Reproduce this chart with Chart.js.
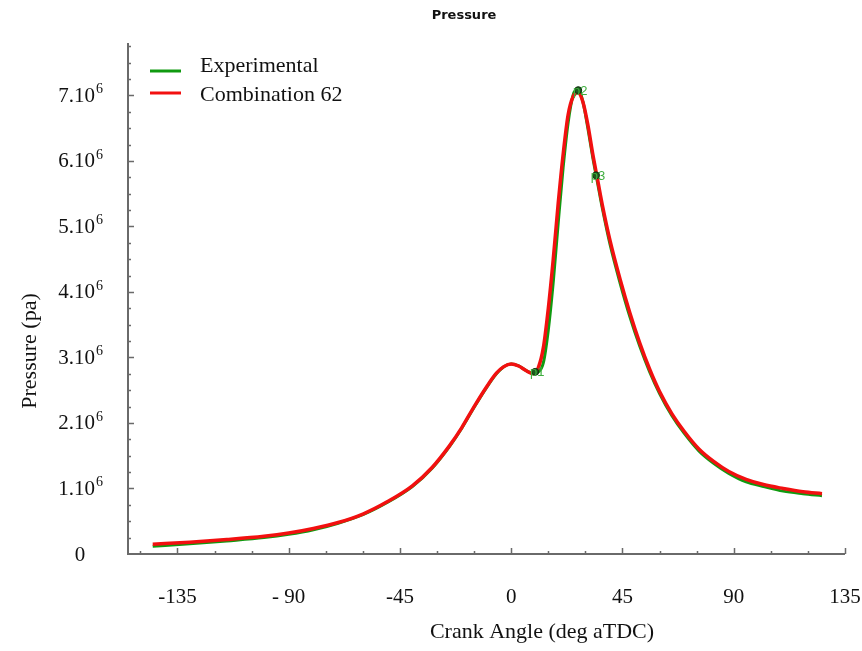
<!DOCTYPE html>
<html>
<head>
<meta charset="utf-8">
<script src="https://cdn.jsdelivr.net/npm/chart.js@4.4.1/dist/chart.umd.min.js"></script>
<style>
    html, body { margin: 0; padding: 0; background: #fff; }
</style>
</head>
<body>
<canvas id="pressure-chart" width="862" height="651"></canvas>
<script>
// crank angle, deg aTDC
const crankAngle = [-145, -130, -115, -100, -90, -80, -70, -60, -50, -40, -32, -25, -20, -15, -10, -6, -3, 0, 3, 6,
    9, 11, 13, 15, 17, 19, 21, 23, 25, 27, 29, 31, 33, 35, 37, 40, 44, 48, 52, 56,
    60, 65, 70, 76, 82, 88, 95, 102, 110, 118, 125.7];
// pressure, in units of 10^6 Pa
const experimental = [0.12, 0.155, 0.20, 0.25, 0.30, 0.37, 0.47, 0.60, 0.79, 1.03, 1.31, 1.64, 1.92, 2.24, 2.54, 2.75, 2.86, 2.90, 2.87, 2.80,
    2.76, 2.78, 2.92, 3.42, 4.15, 5.05, 5.90, 6.58, 7.00, 7.10, 6.90, 6.50, 6.05, 5.65, 5.25, 4.72, 4.14, 3.62, 3.17, 2.78,
    2.45, 2.11, 1.84, 1.57, 1.38, 1.23, 1.10, 1.03, 0.96, 0.92, 0.89];
const combination62 = [0.15, 0.18, 0.22, 0.27, 0.32, 0.39, 0.48, 0.61, 0.80, 1.04, 1.32, 1.65, 1.93, 2.25, 2.55, 2.76, 2.86, 2.90, 2.87, 2.80,
    2.75, 2.85, 3.15, 3.75, 4.50, 5.35, 6.10, 6.70, 6.98, 7.04, 6.90, 6.55, 6.10, 5.70, 5.30, 4.78, 4.20, 3.68, 3.22, 2.82,
    2.48, 2.14, 1.87, 1.60, 1.41, 1.26, 1.14, 1.06, 1.00, 0.95, 0.92];

const markerNames = ['p1', 'p2', 'p3'];
const markerAngle = [9.7, 27.1, 34.3];
const markerPressure = [2.78, 7.08, 5.78];

const xTicks = [-135, -90, -45, 0, 45, 90, 135];
const xTickLabels = ['-135', '- 90', '-45', '0', '45', '90', '135'];
const yTicks = [0, 1, 2, 3, 4, 5, 6, 7];
const yTickLabels = ['0', '1.10^6', '2.10^6', '3.10^6', '4.10^6', '5.10^6', '6.10^6', '7.10^6'];

const SERIF = '"Liberation Serif", "Times New Roman", serif';
const GREEN = '#109a10';
const RED = '#f21010';
const AXIS = '#6a6a6a';

function toPoints(xs, ys) {
    return xs.map((x, i) => ({ x: x, y: ys[i] }));
}

// axis lines, tick marks, y labels with exponents, titles, legend, marker names
const decorations = {
    id: 'decorations',
    afterDraw(chart) {
        const ctx = chart.ctx;
        const area = chart.chartArea;
        const xs = chart.scales.x;
        const ys = chart.scales.y;
        ctx.save();

        ctx.strokeStyle = AXIS;
        ctx.lineWidth = 2;
        ctx.beginPath();
        ctx.moveTo(area.left, area.top);
        ctx.lineTo(area.left, area.bottom);
        ctx.lineTo(area.right, area.bottom);
        ctx.stroke();

        ctx.lineWidth = 1.5;
        ctx.beginPath();
        for (let v = -150; v <= 135; v += 15) {
            const px = Math.round(xs.getPixelForValue(v)) + 0.5;
            const len = v % 45 === 0 ? 6 : 3;
            ctx.moveTo(px, area.bottom);
            ctx.lineTo(px, area.bottom - len);
        }
        for (let v = 0.25; v <= 7.8; v += 0.25) {
            const py = Math.round(ys.getPixelForValue(v)) + 0.5;
            const len = Math.abs(v - Math.round(v)) < 0.01 ? 6 : 3;
            ctx.moveTo(area.left, py);
            ctx.lineTo(area.left + len, py);
        }
        ctx.stroke();

        // y tick labels, exponent raised
        ctx.fillStyle = '#111';
        ctx.textBaseline = 'middle';
        ctx.textAlign = 'left';
        yTicks.forEach((v, i) => {
            const parts = yTickLabels[i].split('^');
            const py = ys.getPixelForValue(v);
            ctx.font = '21px ' + SERIF;
            const wb = ctx.measureText(parts[0]).width;
            ctx.font = '14px ' + SERIF;
            const ws = parts[1] ? ctx.measureText(parts[1]).width : 0;
            const x0 = 80 - (wb + ws) / 2;
            ctx.font = '21px ' + SERIF;
            ctx.fillText(parts[0], x0, py + 1);
            if (parts[1]) {
                ctx.font = '14px ' + SERIF;
                ctx.fillText(parts[1], x0 + wb + 1, py - 6);
            }
        });

        // titles
        ctx.textAlign = 'center';
        ctx.font = 'bold 13px "DejaVu Sans", Verdana, sans-serif';
        ctx.fillText('Pressure', 464, 16);

        ctx.font = '22px ' + SERIF;
        ctx.fillText('Crank Angle (deg aTDC)', 542, 632);
        ctx.save();
        ctx.translate(30, 351);
        ctx.rotate(-Math.PI / 2);
        ctx.fillText('Pressure (pa)', 0, 0);
        ctx.restore();

        // legend
        ctx.textAlign = 'left';
        ctx.font = '22px ' + SERIF;
        chart.data.datasets.slice(0, 2).forEach((ds, i) => {
            const ly = 71 + i * 22;
            ctx.strokeStyle = ds.borderColor;
            ctx.lineWidth = 3;
            ctx.beginPath();
            ctx.moveTo(150, ly);
            ctx.lineTo(181, ly);
            ctx.stroke();
            ctx.fillStyle = '#111';
            ctx.fillText(ds.label, 200, 66 + i * 29);
        });

        // marker names
        const meta = chart.getDatasetMeta(2);
        ctx.fillStyle = '#3fae3f';
        ctx.textAlign = 'center';
        ctx.font = '13px "Liberation Sans", Arial, sans-serif';
        meta.data.forEach((pt, i) => {
            ctx.fillText(markerNames[i], pt.x + 2, pt.y + 1);
        });
        ctx.restore();
    }
};

new Chart(document.getElementById('pressure-chart'), {
    type: 'line',
    data: {
        datasets: [
            {
                label: 'Experimental',
                data: toPoints(crankAngle, experimental),
                borderColor: GREEN,
                borderWidth: 3,
                pointRadius: 0,
                cubicInterpolationMode: 'monotone',
                order: 2
            },
            {
                label: 'Combination 62',
                data: toPoints(crankAngle, combination62),
                borderColor: RED,
                borderWidth: 3.5,
                pointRadius: 0,
                cubicInterpolationMode: 'monotone',
                order: 1
            },
            {
                type: 'scatter',
                label: 'markers',
                data: toPoints(markerAngle, markerPressure),
                showLine: false,
                pointRadius: 3.5,
                pointBackgroundColor: '#1c5a1c',
                pointBorderColor: '#0e2e0e',
                pointBorderWidth: 1,
                order: 0
            }
        ]
    },
    options: {
        responsive: false,
        animation: false,
        devicePixelRatio: 1,
        layout: { padding: { left: 0, right: 17, top: 43, bottom: 0 } },
        plugins: {
            legend: { display: false },
            tooltip: { enabled: false },
            title: { display: false }
        },
        scales: {
            x: {
                type: 'linear',
                min: -155,
                max: 135,
                afterBuildTicks: (s) => { s.ticks = xTicks.map(v => ({ value: v })); },
                afterFit: (s) => {
                    s.height = 97;
                    s.paddingLeft = 0;
                    s.paddingRight = 0;
                },
                grid: { display: false, drawTicks: false },
                border: { display: false },
                ticks: {
                    autoSkip: false,
                    maxRotation: 0,
                    padding: 31,
                    color: '#111',
                    font: { family: SERIF, size: 21 },
                    callback: (v) => xTickLabels[xTicks.indexOf(v)]
                }
            },
            y: {
                type: 'linear',
                min: 0,
                max: 7.8,
                afterFit: (s) => {
                    s.width = 128;
                    s.paddingTop = 0;
                    s.paddingBottom = 0;
                },
                grid: { display: false, drawTicks: false },
                border: { display: false },
                ticks: { display: false }
            }
        }
    },
    plugins: [decorations]
});
</script>
</body>
</html>
